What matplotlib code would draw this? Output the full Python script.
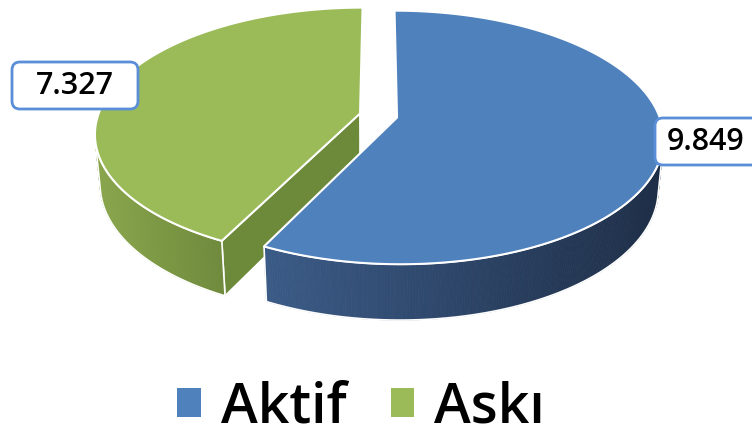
import numpy as np
import matplotlib
matplotlib.use("Agg")
import matplotlib.pyplot as plt
from matplotlib.patches import Polygon, Patch, FancyBboxPatch
from matplotlib.colors import to_rgb

plt.rcParams['font.family'] = ['Open Sans', 'DejaVu Sans']

labels = ['Aktif', 'Askı']
values = [9.849, 7.327]
value_text = ['9.849', '7.327']
top_colors = ['#4f81bd', '#9bbb59']
side_colors = [('#3b5b87', '#1e2e47'), ('#8aa64d', '#6f8a3c')]
cut_colors = ['#1f3250', '#6d8a3b']

# camera / disc geometry
phi = np.radians(28)
D = 5.64
f = 1478.0
cx, cy = 378.5, 115.5
h = 0.219
explode = 0.0725


def project(X, Y, Z):
    depth = D + Z * np.cos(phi) - Y * np.sin(phi)
    u = f * X / depth
    v = f * (Y * np.cos(phi) + Z * np.sin(phi)) / depth
    return cx + u, cy - v


def arc(t0, t1, ex, ez, y, n=120):
    t = np.radians(np.linspace(t0, t1, n))
    return project(np.sin(t) + ex, np.full_like(t, y), np.cos(t) + ez)


def mix(c0, c1, s):
    a, b = np.array(to_rgb(c0)), np.array(to_rgb(c1))
    return tuple(a + (b - a) * s)


fig = plt.figure(figsize=(7.52, 4.42), dpi=100)
ax = fig.add_axes([0, 0, 1, 1])
ax.set_xlim(0, 752)
ax.set_ylim(442, 0)
ax.axis('off')

total = sum(values)
bounds = np.concatenate([[0], np.cumsum(values) / total * 360])
slices = []
for i in range(len(values)):
    t0, t1 = bounds[i], bounds[i + 1]
    mid = np.radians((t0 + t1) / 2)
    slices.append((i, t0, t1, explode * np.sin(mid), explode * np.cos(mid)))
# far slices first
slices.sort(key=lambda s: -s[4])

for i, t0, t1, ex, ez in slices:
    # radial cut faces
    for t, sgn in ((t0, -1), (t1, 1)):
        tr = np.radians(t)
        nx, nz = sgn * np.cos(tr), -sgn * np.sin(tr)
        if nx * (-ex) + nz * (-D * np.cos(phi) - ez) <= 0:
            continue
        xs, ys = [], []
        for X, Y, Z in ((ex, 0, ez), (np.sin(tr) + ex, 0, np.cos(tr) + ez),
                        (np.sin(tr) + ex, -h, np.cos(tr) + ez), (ex, -h, ez)):
            px, py = project(X, Y, Z)
            xs.append(px)
            ys.append(py)
        ax.add_patch(Polygon(np.c_[xs, ys], closed=True, facecolor=cut_colors[i],
                             edgecolor='white', lw=1.2, joinstyle='round'))

    # outer wall, only the part facing the viewer
    t = np.linspace(t0, t1, 400)
    tr = np.radians(t)
    vis = (-1 - ex * np.sin(tr) - ez * np.cos(tr) - D * np.cos(phi) * np.cos(tr)) > 0
    if vis.any():
        tv = t[vis]
        wa, wb = tv.min(), tv.max()
        xt, yt = arc(wa, wb, ex, ez, 0, 200)
        xb, yb = arc(wa, wb, ex, ez, -h, 200)
        xmin, xmax = xt.min(), xt.max()
        for k in range(len(xt) - 1):
            s = ((xt[k] + xt[k + 1]) / 2 - xmin) / (xmax - xmin)
            c = mix(side_colors[i][0], side_colors[i][1], s)
            quad = [(xt[k], yt[k]), (xt[k + 1], yt[k + 1]),
                    (xb[k + 1], yb[k + 1]), (xb[k], yb[k])]
            ax.add_patch(Polygon(quad, closed=True, facecolor=c, edgecolor=c, lw=0.6))
        outline = np.r_[np.c_[xt, yt], np.c_[xb, yb][::-1]]
        ax.add_patch(Polygon(outline, closed=True, facecolor='none',
                             edgecolor='white', lw=1.2))

    # top face
    xa, ya = project(ex, 0, ez)
    xt, yt = arc(t0, t1, ex, ez, 0, 300)
    top = np.r_[[[xa, ya]], np.c_[xt, yt]]
    ax.add_patch(Polygon(top, closed=True, facecolor=top_colors[i],
                         edgecolor='white', lw=1.5, joinstyle='round'))

# value labels: (box left, box top, box width, text x)
label_boxes = [(655, 118, 120, 706), (12, 62, 126, 75)]
for txt, (bx, by, bw, tx) in zip(value_text, label_boxes):
    bh = 47
    ax.add_patch(FancyBboxPatch((bx, by), bw, bh,
                                boxstyle='round,pad=0,rounding_size=8',
                                facecolor='white', edgecolor='#5b8ed8', lw=2,
                                clip_on=False))
    ax.text(tx, by + bh / 2 + 1, txt, ha='center', va='center', fontsize=22,
            fontweight='semibold', color='black')

handles = [Patch(facecolor=c, edgecolor='none') for c in top_colors]
fig.legend(handles, labels, loc='lower center', bbox_to_anchor=(0.48, -0.1),
           ncol=2, frameon=False,
           prop={'size': 40, 'weight': 'semibold'},
           handlelength=0.42, handleheight=0.42,
           handletextpad=0.36, columnspacing=0.8)

fig.savefig('out.png', dpi=100)
